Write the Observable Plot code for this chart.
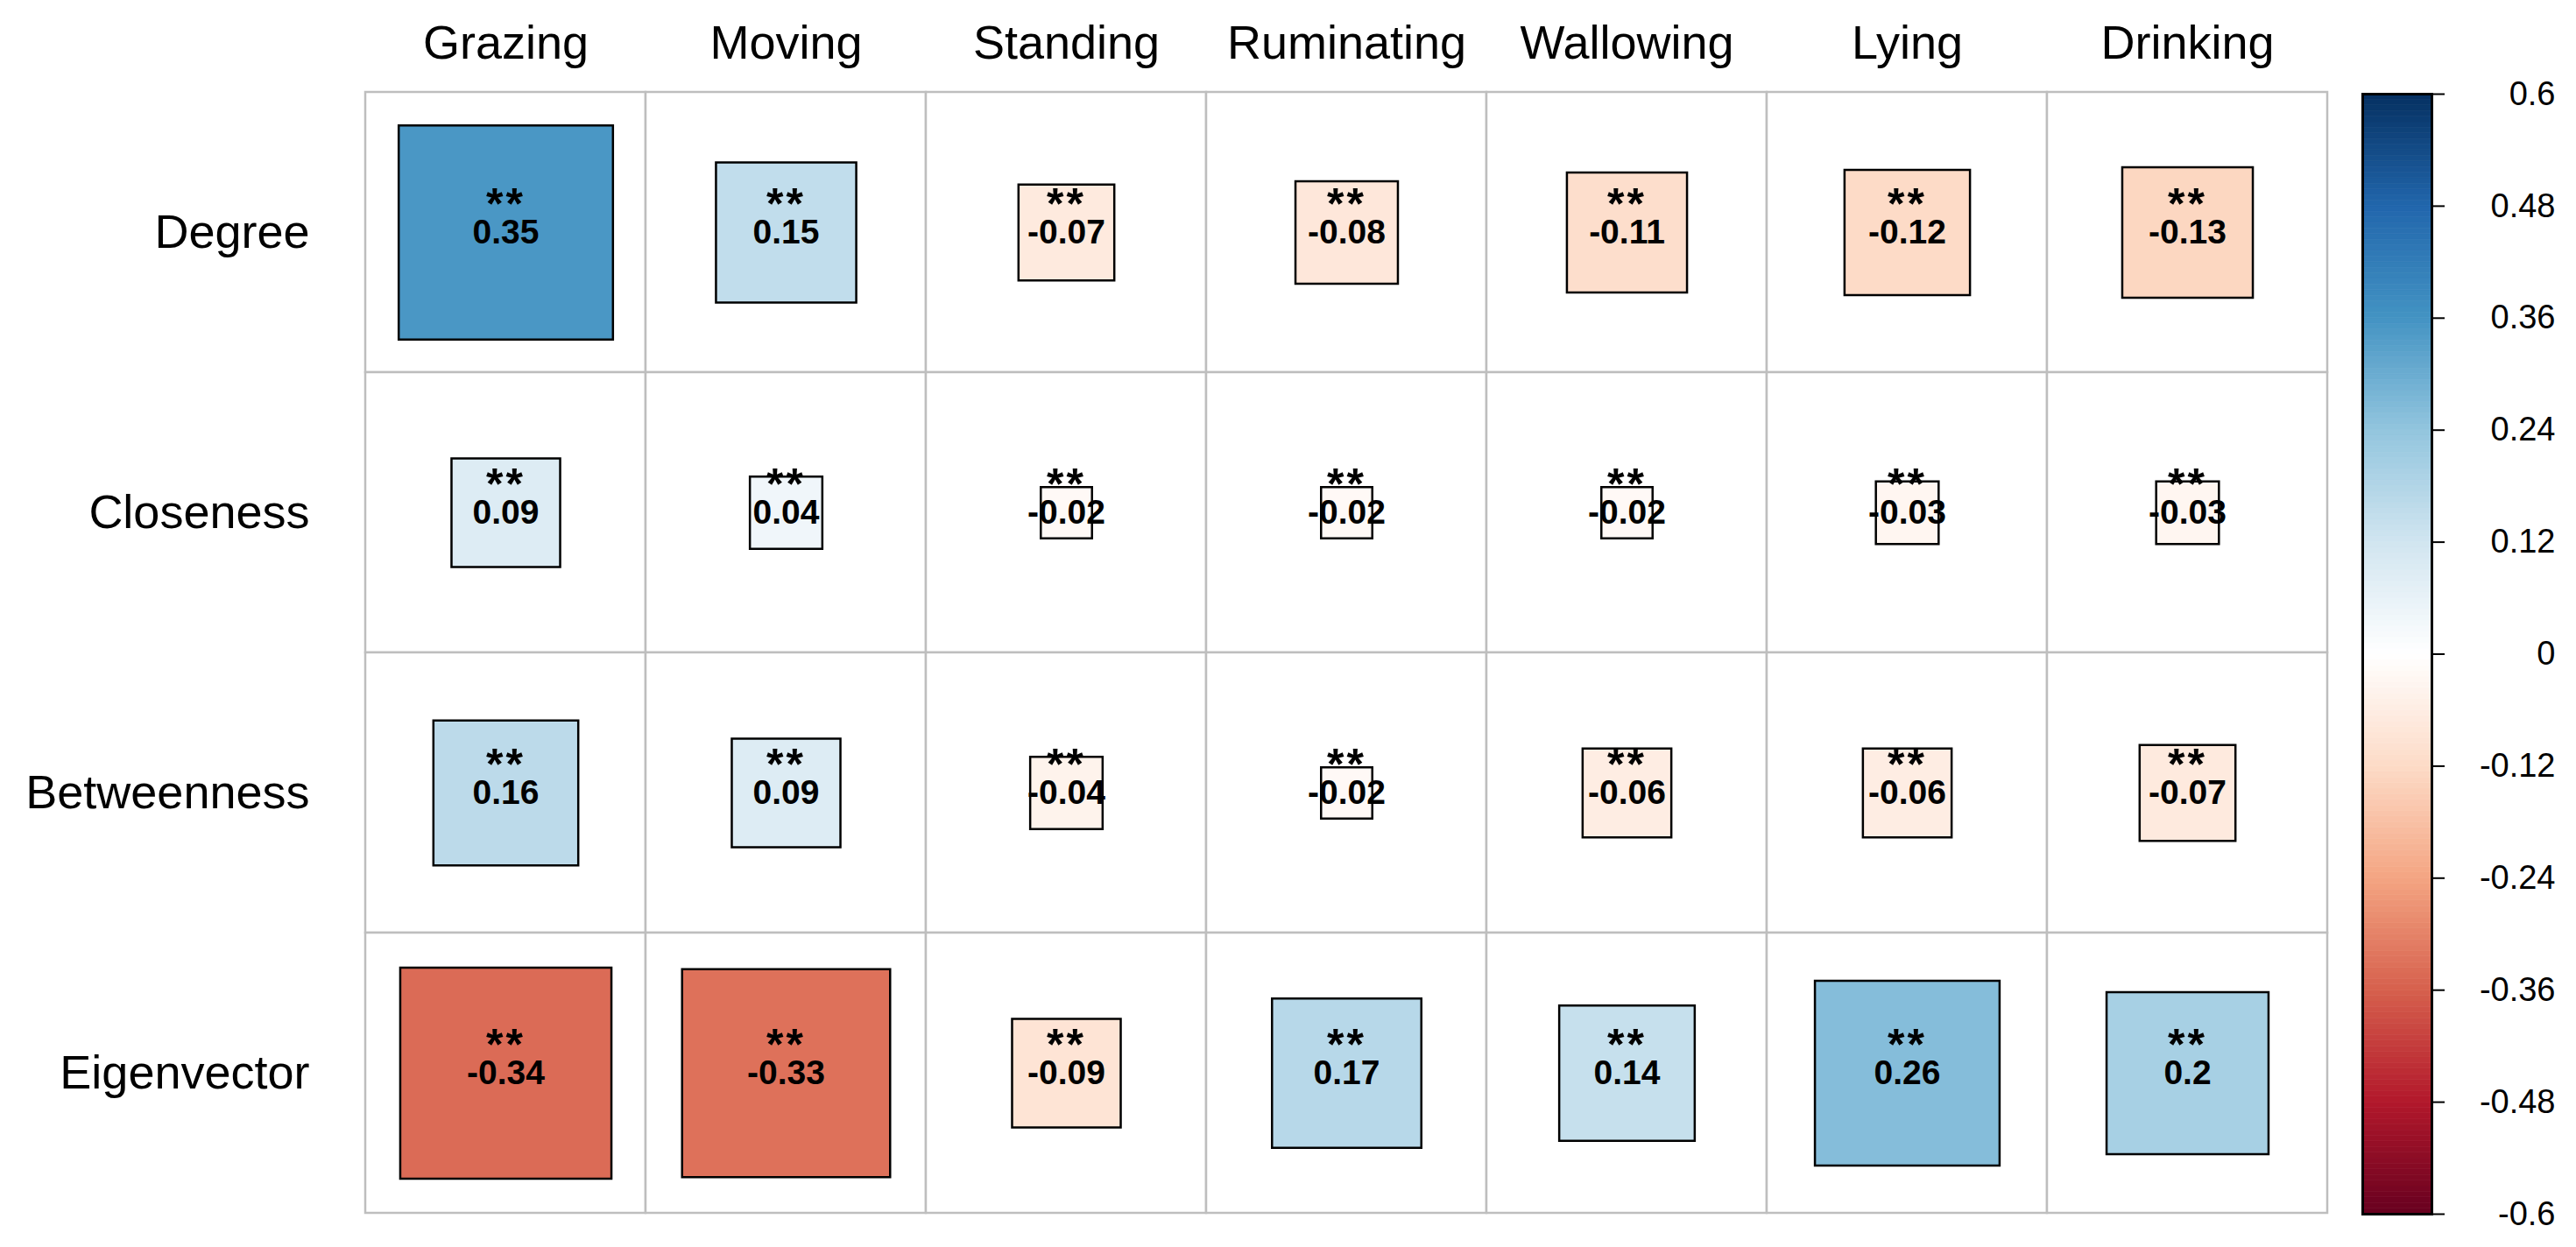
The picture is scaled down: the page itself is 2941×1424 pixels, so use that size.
<!DOCTYPE html>
<html><head><meta charset="utf-8">
<script src="https://cdn.jsdelivr.net/npm/d3@7"></script>
<script src="https://cdn.jsdelivr.net/npm/@observablehq/plot@0.6"></script>
<style>
body{margin:0;background:#fff;}
#wrap{position:relative;width:2941px;height:1424px;}
#wrap svg{position:absolute;top:0;max-width:none;}
</style></head><body><div id="wrap"></div>
<script>
// ---- data ----
const behaviours = ["Grazing","Moving","Standing","Ruminating","Wallowing","Lying","Drinking"];
const measures = ["Degree","Closeness","Betweenness","Eigenvector"];
const degree      = [0.35, 0.15, -0.07, -0.08, -0.11, -0.12, -0.13];
const closeness   = [0.09, 0.04, -0.02, -0.02, -0.02, -0.03, -0.03];
const betweenness = [0.16, 0.09, -0.04, -0.02, -0.06, -0.06, -0.07];
const eigenvector = [-0.34, -0.33, -0.09, 0.17, 0.14, 0.26, 0.2];
const significance = "**";
const colorStops = ["#67001F","#B2182B","#D6604D","#F4A582","#FDDBC7","#FFFFFF","#D1E5F0","#92C5DE","#4393C3","#2166AC","#053061"];
const colorTicks = [-0.6,-0.48,-0.36,-0.24,-0.12,0,0.12,0.24,0.36,0.48,0.6];

const series = [degree, closeness, betweenness, eigenvector];
const data = measures.flatMap((m, i) => behaviours.map((b, j) => ({measure: m, behaviour: b, r: series[i][j]})));

// ---- layout ----
const W = 2941, H = 1424, ML = 416, MR = 283, MT = 103, MB = 38;
const cell = (W - ML - MR) / behaviours.length;
const font = "'Liberation Sans', Arial, Helvetica, sans-serif";
const colorOpts = {type: "linear", domain: [-0.6, 0.6], interpolate: d3.piecewise(d3.interpolateRgb, colorStops)};

const main = Plot.plot({
  width: W, height: H, marginLeft: ML, marginRight: MR, marginTop: MT, marginBottom: MB,
  style: {fontFamily: font, background: "white", color: "black"},
  x: {domain: behaviours, padding: 0, axis: null},
  y: {domain: measures, padding: 0, axis: null},
  color: colorOpts,
  r: {type: "sqrt", domain: [0, 0.6], range: [0, cell / Math.sqrt(Math.PI)]},
  marks: [
    Plot.cell(data, {x: "behaviour", y: "measure", fill: "white", stroke: "#bebebe", strokeWidth: 2.5, inset: 0}),
    Plot.dot(data, {x: "behaviour", y: "measure", symbol: "square", r: d => Math.abs(d.r), fill: "r", stroke: "black", strokeWidth: 2.5}),
    Plot.text(data, {x: "behaviour", y: "measure", text: () => significance, fontSize: 50, fontWeight: "bold", fill: "black", dy: -32}),
    Plot.text(data, {x: "behaviour", y: "measure", text: d => String(d.r), fontSize: 39, fontWeight: "bold", fill: "black", dy: 0}),
    Plot.axisX({anchor: "top", tickSize: 0, tickPadding: 37, fontSize: 54, label: null}),
    Plot.axisY({anchor: "left", tickSize: 0, tickPadding: 63, fontSize: 54, label: null})
  ]
});
main.style.left = "0px";
main.querySelectorAll("text").forEach(t => { if (t.textContent === significance) t.setAttribute("letter-spacing", "3"); });
document.getElementById("wrap").appendChild(main);

// ---- colour bar ----
const BX = 2660, BL = 37, BW = 79;
const bins = d3.range(200).map(i => ({lo: -0.6 + i * 1.2 / 200, hi: -0.6 + (i + 1) * 1.2 / 200}));
const bar = Plot.plot({
  width: W - BX, height: H, marginLeft: BL, marginRight: W - BX - BL - BW, marginTop: 107, marginBottom: H - 1386,
  style: {fontFamily: font, background: "transparent", color: "black"},
  x: {domain: [0, 1], axis: null},
  y: {domain: [-0.6, 0.6], axis: null},
  color: colorOpts,
  marks: [
    Plot.rect(bins, {x1: 0, x2: 1, y1: "lo", y2: "hi", fill: d => (d.lo + d.hi) / 2, stroke: d => (d.lo + d.hi) / 2, strokeWidth: 0.6}),
    Plot.frame({stroke: "black", strokeWidth: 3}),
    Plot.axisY(colorTicks, {anchor: "right", tickSize: 14, tickPadding: 127, textAnchor: "end", fontSize: 38, tickFormat: d => String(d), strokeWidth: 2})
  ]
});
bar.style.left = BX + "px";
document.getElementById("wrap").appendChild(bar);
</script></body></html>
